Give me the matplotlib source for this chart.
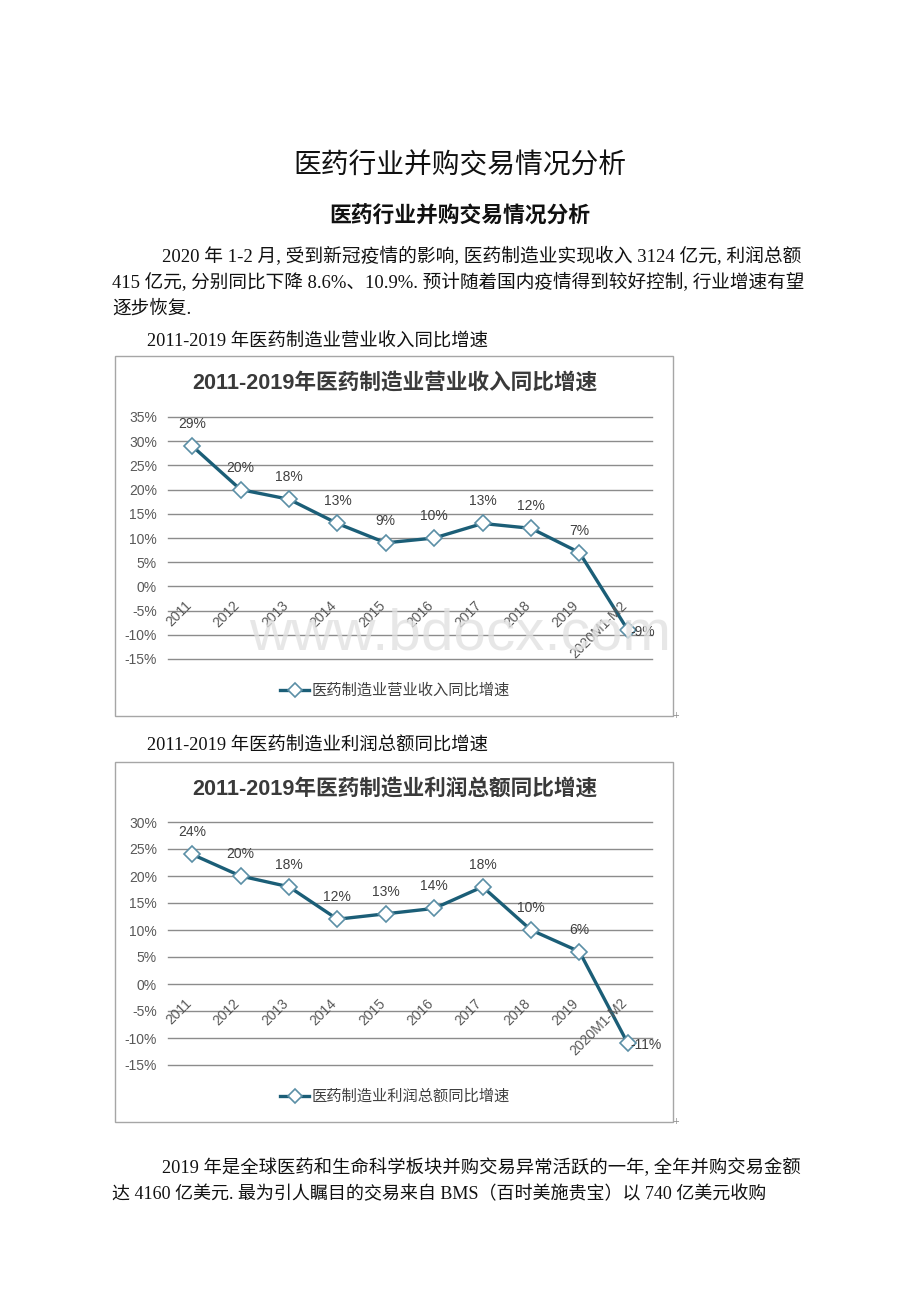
import matplotlib
matplotlib.use('Agg')
import matplotlib.pyplot as plt
from matplotlib.patches import Rectangle

# 数据
years = ['2011', '2012', '2013', '2014', '2015', '2016', '2017', '2018', '2019', '2020M1-M2']
revenue_growth = [29, 20, 18, 13, 9, 10, 13, 12, 7, -9]
profit_growth = [24, 20, 18, 12, 13, 14, 18, 10, 6, -11]

doc_title = '医药行业并购交易情况分析'
para1 = ['2020 年 1-2 月, 受到新冠疫情的影响, 医药制造业实现收入 3124 亿元, 利润总额',
         '415 亿元, 分别同比下降 8.6%、10.9%. 预计随着国内疫情得到较好控制, 行业增速有望',
         '逐步恢复.']
caption1 = '2011-2019 年医药制造业营业收入同比增速'
caption2 = '2011-2019 年医药制造业利润总额同比增速'
chart1_title = '2011-2019年医药制造业营业收入同比增速'
chart2_title = '2011-2019年医药制造业利润总额同比增速'
legend1 = '医药制造业营业收入同比增速'
legend2 = '医药制造业利润总额同比增速'
para2 = ['2019 年是全球医药和生命科学板块并购交易异常活跃的一年, 全年并购交易金额',
         '达 4160 亿美元. 最为引人瞩目的交易来自 BMS（百时美施贵宝）以 740 亿美元收购']

W, H = 920, 1302
SERIF = ['Liberation Serif', 'Noto Sans CJK SC']
SANS = ['Liberation Sans', 'Noto Sans CJK SC']
LINE_C = '#1b5e77'
EDGE_C = '#5b8fa6'

fig = plt.figure(figsize=(W / 100, H / 100), dpi=100)
fig.patch.set_facecolor('white')


def fx(x):
    return x / W


def fy(y):
    return 1 - y / H


def ptext(x, y, s, size, **kw):
    fig.text(fx(x), fy(y), s, fontsize=size, va='center', **kw)


# 文档文字
ptext(460, 165, doc_title, 20, ha='center', family='Noto Sans CJK SC', weight='medium', color='#111111')
ptext(460, 216, doc_title, 15.7, ha='center', family='Noto Sans CJK SC', weight='bold', color='#111111')
ptext(162, 257, para1[0], 13.5, ha='left', family=SERIF, color='#111111')
ptext(112, 283, para1[1], 13.4, ha='left', family=SERIF, color='#111111')
ptext(112, 309, para1[2], 13.4, ha='left', family=SERIF, color='#111111')
ptext(147, 342, caption1, 13.2, ha='left', family=SERIF, color='#111111')
ptext(147, 746, caption2, 13.2, ha='left', family=SERIF, color='#111111')
ptext(162, 1168, para2[0], 13.2, ha='left', family=SERIF, color='#111111')
ptext(112, 1194, para2[1], 13, ha='left', family=SERIF, color='#111111')


def draw_chart(box_top, box_bot, plot_top, plot_bot, ymin, ymax, values, title, legend_text, watermark):
    # 外框
    fig.add_artist(Rectangle((fx(115), fy(box_bot)), fx(673) - fx(115), fy(box_top) - fy(box_bot),
                             transform=fig.transFigure, fill=False, edgecolor='#a6a6a6', lw=1.0))
    ptext(395, box_top + 27, title, 15.6, ha='center', family=SANS, weight='bold', color='#3a3a3a')

    ax = fig.add_axes([fx(168), fy(plot_bot), fx(652) - fx(168), fy(plot_top) - fy(plot_bot)])
    ax.set_xlim(-0.5, len(years) - 0.5)
    ax.set_ylim(ymin, ymax)
    ticks = list(range(ymin, ymax + 1, 5))
    ax.set_yticks(ticks)
    ax.set_yticklabels([f'{t}%' for t in ticks], fontsize=10, color='#595959', family=SANS)
    ax.tick_params(axis='y', length=0, pad=8)
    ax.set_xticks([])
    ax.patch.set_alpha(0)
    for s in ax.spines.values():
        s.set_visible(False)
    for t in ticks:
        ax.axhline(t, color='#8c8c8c', lw=1.0, zorder=1, clip_on=False)

    xs = list(range(len(years)))
    ax.plot(xs, values, color=LINE_C, lw=2.4, marker='D', markersize=8,
            markerfacecolor='white', markeredgecolor=EDGE_C, markeredgewidth=1.2, zorder=4,
            clip_on=False)

    for i, (x, v) in enumerate(zip(xs, values)):
        if i == len(xs) - 1:
            ax.annotate(f'{v}%', (x, v), xytext=(3, -2), textcoords='offset pixels',
                        ha='left', va='center', fontsize=10, color='#404040', family=SANS, zorder=5)
        else:
            ax.annotate(f'{v}%', (x, v), xytext=(0, 22), textcoords='offset pixels',
                        ha='center', va='center', fontsize=10, color='#404040', family=SANS, zorder=5)
        ax.annotate(years[i], (x, 0), xytext=(2, -12), textcoords='offset pixels',
                    ha='right', va='top', rotation=45, fontsize=10, color='#595959',
                    family=SANS, zorder=5)

    if watermark:
        ptext(460, 635, 'www.bdocx.com', 42, ha='center', family='Liberation Sans',
              color='#e2e2e2', alpha=0.8, zorder=0)

    # 图例
    leg_y = box_bot - 26
    fig.add_artist(plt.Line2D([fx(280), fx(309)], [fy(leg_y), fy(leg_y)], color=LINE_C, lw=2.4,
                              transform=fig.transFigure))
    fig.add_artist(plt.Line2D([fx(294.5)], [fy(leg_y)], marker='D', markersize=7,
                              markerfacecolor='white', markeredgecolor=EDGE_C, markeredgewidth=1.2,
                              transform=fig.transFigure))
    ptext(312, leg_y, legend_text, 11, ha='left', family=SANS, color='#404040')
    fig.text(fx(676), fy(box_bot), '+', fontsize=6, color='#888888', va='center', ha='center')


draw_chart(356, 716, 417, 659, -15, 35, revenue_growth, chart1_title, legend1, True)
draw_chart(762, 1122, 822, 1065, -15, 30, profit_growth, chart2_title, legend2, False)

fig.savefig('out.png', dpi=100, facecolor='white')
